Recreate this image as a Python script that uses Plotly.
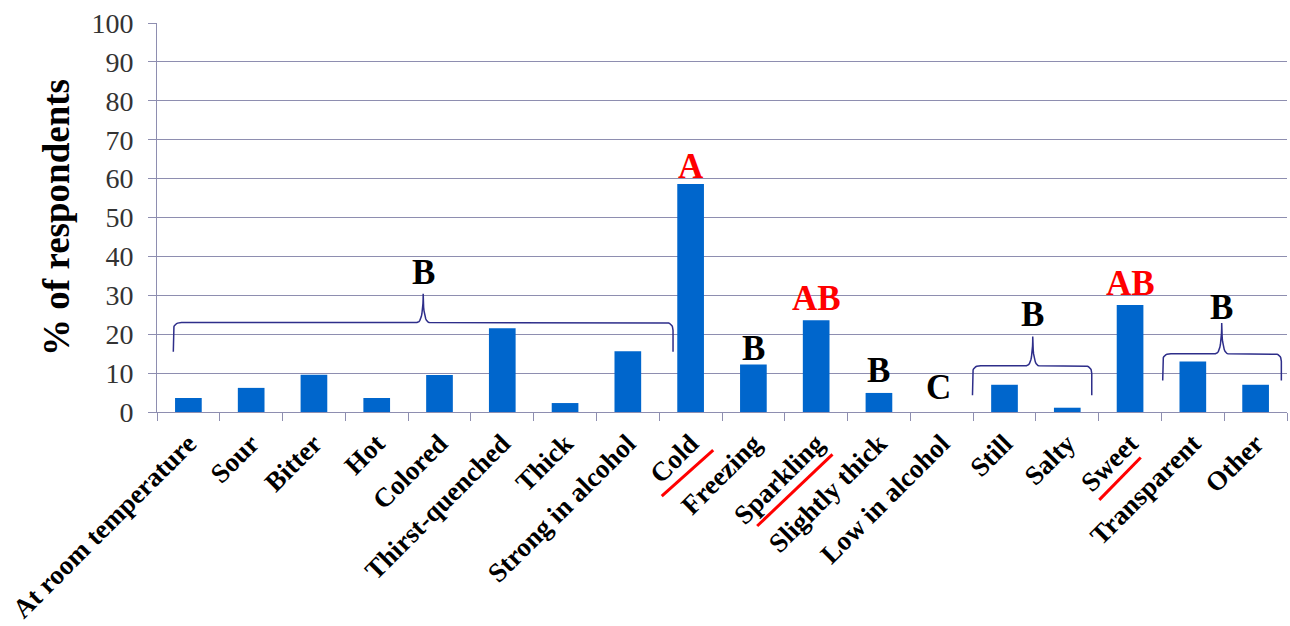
import numpy as np
import plotly.graph_objects as go

# ---- data ----
categories = ["At room temperature", "Sour", "Bitter", "Hot", "Colored",
              "Thirst-quenched", "Thick", "Strong in alcohol", "Cold",
              "Freezing", "Sparkling", "Slightly thick", "Low in alcohol",
              "Still", "Salty", "Sweet", "Transparent", "Other"]
values = [3.6, 6.2, 9.6, 3.6, 9.5, 21.5, 2.3, 15.6, 58.6,
          12.2, 23.6, 4.9, 0.0, 7.0, 1.1, 27.5, 13.0, 7.0]
y_ticks = [0, 10, 20, 30, 40, 50, 60, 70, 80, 90, 100]

# group letters: (text, x position in category units, y value, color)
letters = [("B", 3.74, 35.8, "black"), ("A", 8.0, 63.0, "red"),
           ("B", 9.0, 16.3, "black"), ("AB", 10.0, 29.3, "red"),
           ("B", 11.0, 10.7, "black"), ("C", 11.95, 6.2, "black"),
           ("B", 13.45, 25.0, "black"), ("AB", 15.0, 33.0, "red"),
           ("B", 16.46, 26.8, "black")]

# braces: (x left, x right, x tip, y bottom, y horizontal, y tip)
braces = [(-0.24, 7.72, 3.74, 15.5, 23.0, 30.4),
          (12.49, 14.39, 13.45, 4.3, 11.9, 19.4),
          (15.52, 17.41, 16.46, 8.1, 15.0, 22.9)]

# red underline strokes in label area: (x0, y0 paper, x1, y1 paper)
red_marks = [(7.54, -0.216, 8.36, -0.098),
             (9.06, -0.293, 10.26, -0.109),
             (14.51, -0.226, 15.17, -0.117)]

SERIF = "Liberation Serif, Times New Roman, serif"
GRID = "#8E8EB0"


def qbez(p0, p1, p2, n=12):
    t = np.linspace(0, 1, n)
    x = (1 - t) ** 2 * p0[0] + 2 * (1 - t) * t * p1[0] + t ** 2 * p2[0]
    y = (1 - t) ** 2 * p0[1] + 2 * (1 - t) * t * p1[1] + t ** 2 * p2[1]
    return list(x), list(y)


def brace_path(xl, xr, xm, yb, yh, yt, rx=0.13, ry=2.0, tx=0.1):
    xs, ys = [xl], [yb]
    bx, by = qbez((xl, yh - ry), (xl, yh), (xl + rx, yh))
    xs += bx; ys += by
    bx, by = qbez((xm - tx, yh), (xm, yh), (xm, yt))
    xs += bx; ys += by
    bx, by = qbez((xm, yt), (xm, yh), (xm + tx, yh))
    xs += bx; ys += by
    bx, by = qbez((xr - rx, yh), (xr, yh), (xr, yh - ry))
    xs += bx; ys += by
    xs.append(xr); ys.append(yb)
    return xs, ys


fig = go.Figure()
fig.add_trace(go.Bar(x=categories, y=values, marker=dict(color="#0066CC", line=dict(width=0)),
                     showlegend=False, hoverinfo="x+y"))

for b in braces:
    bx, by = brace_path(*b)
    fig.add_trace(go.Scatter(x=bx, y=by, xaxis="x2", yaxis="y", mode="lines",
                             line=dict(color="#2E2E8A", width=1.5), showlegend=False,
                             hoverinfo="skip"))

for txt, x, y, col in letters:
    fig.add_annotation(x=x, y=y, xref="x2", yref="y", text="<b>%s</b>" % txt,
                       showarrow=False, font=dict(family=SERIF, size=35, color=col),
                       xanchor="center", yanchor="middle")

for x0, y0, x1, y1 in red_marks:
    fig.add_shape(type="line", xref="x2", yref="paper", x0=x0, y0=y0, x1=x1, y1=y1,
                  line=dict(color="#FF0000", width=3))

fig.update_layout(
    width=1290, height=626,
    margin=dict(l=157, r=3, t=23, b=214),
    plot_bgcolor="white", paper_bgcolor="white",
    bargap=0.575,
    xaxis=dict(type="category", range=[-0.5, 17.5], tickson="boundaries",
               ticks="outside", ticklen=8, tickcolor=GRID, tickwidth=1,
               showline=True, linecolor=GRID, linewidth=1, showgrid=False,
               tickangle=-45, automargin=False, ticklabelstandoff=4,
               tickfont=dict(family=SERIF, size=27, color="black", weight="bold")),
    xaxis2=dict(overlaying="x", range=[-0.5, 17.5], visible=False, anchor="y"),
    yaxis=dict(range=[0, 100], tickvals=y_ticks, ticks="outside", ticklen=8,
               tickcolor=GRID, showline=True, linecolor=GRID, linewidth=1,
               showgrid=True, gridcolor=GRID, gridwidth=1, zeroline=False,
               automargin=False, ticklabelstandoff=9,
               tickfont=dict(family=SERIF, size=28, color="#333333"),
               title=dict(text="<b>% of respondents</b>", standoff=10,
                          font=dict(family=SERIF, size=37, color="black"))),
)

fig.write_html("out.html", config={"displayModeBar": False},
               post_script="document.body.style.margin='0';document.body.style.overflow='hidden';")
